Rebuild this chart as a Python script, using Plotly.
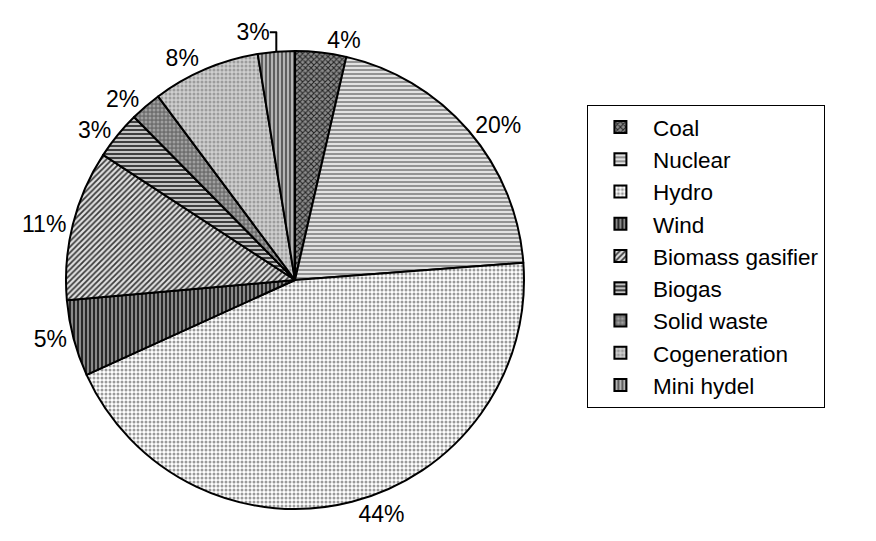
import plotly.graph_objects as go

# Share of installed capacity by source
sources = ["Coal", "Nuclear", "Hydro", "Wind", "Biomass gasifier",
           "Biogas", "Solid waste", "Cogeneration", "Mini hydel"]
shares = [3.6, 20.2, 44.4, 5.4, 10.6, 3.4, 2.2, 7.6, 2.6]

# Monochrome hatch styles, one per source
pattern_shapes = ["x", "-", ".", "|", "/", "-", ".", ".", "|"]
pattern_fg = ["#222222", "#8a8a8a", "#9a9a9a", "#1e1e1e", "#3a3a3a",
              "#2e2e2e", "#a0a0a0", "#9c9c9c", "#555555"]
pattern_bg = ["#8c8c8c", "#e2e2e2", "#ffffff", "#8a8a8a", "#e0e0e0",
              "#c4c4c4", "#6e6e6e", "#cfcfcf", "#b4b4b4"]

FONT = "Liberation Sans, Arial, sans-serif"

fig = go.Figure(
    go.Pie(
        labels=sources,
        values=shares,
        sort=False,
        direction="clockwise",
        rotation=0,
        textposition="outside",
        texttemplate="%{percent:.0%}",
        textfont=dict(family=FONT, size=23, color="#000000"),
        marker=dict(
            line=dict(color="#000000", width=2),
            pattern=dict(shape=pattern_shapes, fgcolor=pattern_fg, bgcolor=pattern_bg,
                         size=4, solidity=0.45, fillmode="replace"),
        ),
        domain=dict(x=[0.0753, 0.5982], y=[0.0591, 0.9057]),
        showlegend=True,
    )
)

fig.update_layout(
    width=876,
    height=541,
    margin=dict(l=0, r=0, t=0, b=0),
    paper_bgcolor="#ffffff",
    plot_bgcolor="#ffffff",
    font=dict(family=FONT, size=23, color="#000000"),
    legend=dict(
        x=0.670, y=0.806, xanchor="left", yanchor="top",
        bordercolor="#000000", borderwidth=1,
        bgcolor="#ffffff",
        font=dict(size=22.5),
        itemwidth=55,
        entrywidth=330,
        tracegroupgap=0,
    ),
)

fig.write_html("out.html")
